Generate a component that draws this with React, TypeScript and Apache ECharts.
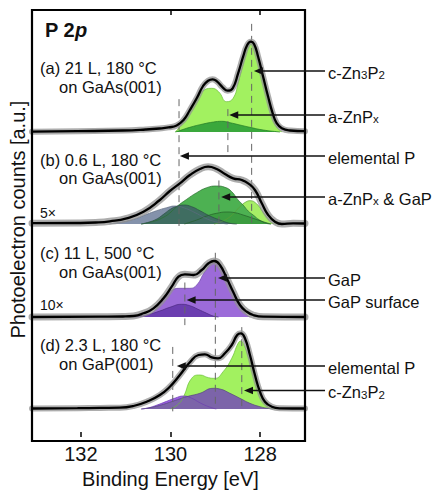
import React, { useEffect, useRef } from 'react';
import * as echarts from 'echarts';

type Pt = [number, number];

// ---------- DATA (binding energy [eV], intensity above panel baseline [a.u.]) ----------
// Panel (a) 21 L, 180 °C on GaAs(001)
const envA: Pt[] = [[133, 0.3], [132, 0.8], [131, 1.5], [130.5, 2.5], [130.2, 3.5], [130.0, 4.6], [129.82, 6.5], [129.67, 12], [129.53, 22], [129.38, 33.7], [129.24, 46], [129.13, 51.3], [129.03, 52.7], [128.93, 50.3], [128.81, 44.7], [128.7, 41.3], [128.59, 43.7], [128.47, 58.7], [128.36, 75.3], [128.27, 87], [128.19, 90.3], [128.12, 88], [128.03, 75.3], [127.92, 55.3], [127.81, 35.3], [127.71, 18.7], [127.62, 8.7], [127.51, 3.7], [127.33, 1.5], [127.0, 0.8]];
const cZn3P2A: Pt[] = [[129.85, 0], [129.78, 3.7], [129.64, 12], [129.49, 23.7], [129.35, 34], [129.27, 40.3], [129.05, 43.7], [128.9, 40.3], [128.72, 30.3], [128.58, 33.7], [128.47, 48.7], [128.36, 68.7], [128.25, 85.3], [128.19, 88.3], [128.11, 83.7], [128.0, 65.3], [127.89, 45.3], [127.78, 25.3], [127.69, 12], [127.6, 3.7], [127.5, 0]];
const aZnPxA: Pt[] = [[129.85, 0], [129.78, 1], [129.53, 4.7], [129.24, 8], [129.01, 10], [128.83, 10.7], [128.65, 9.3], [128.43, 7], [128.21, 4.7], [127.92, 2], [127.62, 0.3], [127.55, 0]];

// Panel (b) 0.6 L, 180 °C on GaAs(001), 5x
const envB: Pt[] = [[133, 0.8], [132, 1], [131.6, 1.5], [131.29, 2.7], [130.92, 5.7], [130.55, 12.3], [130.19, 24], [129.97, 33], [129.75, 40.7], [129.53, 49], [129.31, 55], [129.13, 57.3], [128.94, 55], [128.76, 50], [128.58, 45.7], [128.39, 44], [128.25, 40.7], [128.1, 34], [127.95, 20.7], [127.81, 9], [127.66, 2.3], [127.51, 0], [127.26, 0.7], [127.0, 0.5]];
const otherB: Pt[] = [[131.3, 0], [131.14, 1.3], [130.92, 3], [130.7, 5.7], [130.48, 9.7], [130.26, 13.3], [130.04, 16.3], [129.86, 18], [129.65, 16], [129.4, 11], [129.15, 5], [128.9, 1.5], [128.7, 0]];
const elemPB: Pt[] = [[130.6, 0], [130.3, 4], [130.1, 10], [129.95, 15], [129.82, 17.5], [129.67, 19], [129.49, 17.3], [129.31, 13.3], [129.09, 8], [128.87, 4], [128.65, 0.7], [128.5, 0]];
const aZnPxGaPB: Pt[] = [[130.6, 0], [130.3, 3], [130.1, 7], [129.97, 11], [129.82, 17.3], [129.6, 24.7], [129.38, 31.3], [129.16, 36.3], [128.94, 38], [128.76, 36.7], [128.61, 32.3], [128.47, 24], [128.36, 19], [128.25, 13], [128.14, 9], [128.0, 4], [127.85, 0.7], [127.75, 0]];
const lowerGreenB: Pt[] = [[129.65, 0], [129.38, 4], [129.16, 8], [128.94, 10.7], [128.72, 12], [128.54, 11.3], [128.36, 9], [128.14, 5.7], [127.92, 2.3], [127.75, 0]];
const cZn3P2B: Pt[] = [[129.0, 0], [128.8, 3], [128.6, 9], [128.5, 14], [128.39, 19], [128.3, 22], [128.21, 23.3], [128.06, 20], [127.92, 11.7], [127.77, 3.3], [127.7, 0.7], [127.62, 0]];

// Panel (c) 11 L, 500 °C on GaAs(001), 10x
const envC: Pt[] = [[133, 0], [131.5, 0.3], [131, 0.5], [130.77, 1], [130.55, 3.7], [130.33, 8.7], [130.11, 18.7], [129.93, 30.3], [129.78, 40.3], [129.64, 42.7], [129.45, 42], [129.27, 47], [129.12, 53.7], [129.0, 56], [128.87, 52], [128.72, 38.7], [128.58, 25.3], [128.43, 12], [128.28, 5.3], [128.14, 2], [127.92, 0.3], [127, 0]];
const gapC: Pt[] = [[130.75, 0], [130.63, 0.3], [130.41, 2.7], [130.26, 8.7], [130.11, 17], [129.97, 25.3], [129.75, 28.7], [129.53, 28.7], [129.38, 32], [129.2, 45.3], [129.02, 53.7], [128.83, 48.7], [128.69, 35.3], [128.54, 22], [128.39, 8.7], [128.28, 2], [128.2, 0]];
const gapSurfC: Pt[] = [[130.75, 0], [130.63, 1], [130.41, 3], [130.19, 6], [129.97, 9.7], [129.71, 12.7], [129.53, 11.3], [129.35, 7.7], [129.16, 3.7], [129.02, 1], [128.9, 0]];

// Panel (d) 2.3 L, 180 °C on GaP(001)
const envD: Pt[] = [[133, 0.5], [132, 0.8], [131.5, 1.1], [131.07, 1.3], [130.77, 3], [130.48, 7.3], [130.19, 14], [129.97, 22.3], [129.75, 34], [129.53, 46.7], [129.34, 54], [129.2, 54.7], [129.05, 51.7], [128.91, 50.7], [128.76, 55.7], [128.61, 64], [128.49, 74], [128.41, 75.7], [128.32, 70.7], [128.21, 54], [128.1, 34], [127.99, 17.3], [127.88, 7.3], [127.73, 2.3], [127.55, 0.7], [127, 0.5]];
const cZn3P2D: Pt[] = [[129.95, 0], [129.78, 5], [129.67, 12.3], [129.49, 30.7], [129.31, 34], [129.12, 31.3], [128.98, 30.7], [128.8, 37.3], [128.61, 50.7], [128.47, 65.7], [128.41, 68], [128.34, 64], [128.21, 47.3], [128.1, 30.7], [127.99, 15.7], [127.88, 5.7], [127.75, 0.7], [127.65, 0]];
const elemPD: Pt[] = [[130.6, 0], [130.45, 1], [130.25, 4], [130.04, 7.7], [129.85, 11], [129.67, 13], [129.5, 11], [129.3, 6], [129.1, 2], [128.95, 0]];
const gapD: Pt[] = [[130.6, 0], [130.45, 1], [130.2, 3.5], [129.89, 8], [129.6, 12.3], [129.31, 15.7], [129.02, 20.7], [128.87, 20], [128.65, 15.7], [128.43, 10.7], [128.21, 5.7], [127.99, 2.3], [127.8, 0.5], [127.7, 0]];

// Axis
const X_MIN = 127;
const X_MAX = 133;
const X_TICKS = [128, 130, 132];
const X_TICKS_TOP = [128, 130];

// Peak reference (dashed) lines: binding energies
const peakBE = [128.19, 129.81, 128.72, 128.92, 129.68, 129.0, 129.95, 128.41];

// Annotations: label and arrow tip binding energy
const annotLabels = ['{t|c-Zn}{s|3}{t|P}{s|2}', '{t|a-ZnP}{s|x}', '{t|elemental P}', '{t|a-ZnP}{s|x}{t| & GaP}', '{t|GaP}', '{t|GaP surface}', '{t|elemental P}', '{t|c-Zn}{s|3}{t|P}{s|2}'];
const annotTipBE = [128.14, 128.69, 129.79, 128.87, 128.94, 129.64, 129.86, 128.36];

const panelLine1 = ['(a) 21 L, 180 °C', '(b) 0.6 L, 180 °C', '(c) 11 L, 500 °C', '(d) 2.3 L, 180 °C'];
const panelLine2 = ['on GaAs(001)', 'on GaAs(001)', 'on GaAs(001)', 'on GaP(001)'];
const panelScale = ['', '5×', '10×', ''];

// ---------- LAYOUT ----------
const FONT = "'Liberation Sans', Arial, Helvetica, sans-serif";
const FR_L = 32, FR_R = 305, FR_T = 10, FR_B = 441;
const W = 434, H = 494;
const SMOOTH = 0.5;
const panels = [
  { top: 10, height: 140, base: 132 },
  { top: 150, height: 90, base: 224 },
  { top: 240, height: 90, base: 317 },
  { top: 330, height: 111, base: 409 },
];
const dashY: [number, number][] = [[24, 228], [100, 228], [110, 155], [182, 228], [285, 328], [255, 412], [350, 415], [330, 412]];
const annotY = [71, 115, 156, 197, 278, 300, 366, 390.5];
const line1Y = [68, 160, 253, 345];
const line2Y = [87, 178, 272, 364];
const scaleY = [0, 213, 305, 0];

export default function App() {
  const ref = useRef<HTMLDivElement>(null);
  useEffect(() => {
    document.body.style.margin = '0';
    const chart = echarts.init(ref.current!, null, { renderer: 'svg' });

    const grids: any[] = [{ left: FR_L, right: W - FR_R, top: FR_T, bottom: H - FR_B }];
    const xAxes: any[] = [
      {
        gridIndex: 0, type: 'value', min: X_MIN, max: X_MAX, inverse: true, position: 'bottom',
        axisLine: { show: false }, splitLine: { show: false },
        axisTick: { show: true, inside: true, length: 5, customValues: X_TICKS, lineStyle: { color: '#000', width: 1.5 } },
        axisLabel: { show: true, customValues: X_TICKS, margin: 7, fontSize: 20, color: '#111', fontFamily: FONT },
        name: 'Binding Energy [eV]', nameLocation: 'middle', nameGap: 27,
        nameTextStyle: { fontSize: 20, color: '#111', fontFamily: FONT },
      },
      {
        gridIndex: 0, type: 'value', min: X_MIN, max: X_MAX, inverse: true, position: 'top',
        axisLine: { show: false }, splitLine: { show: false }, axisLabel: { show: false },
        axisTick: { show: true, inside: true, length: 5, customValues: X_TICKS_TOP, lineStyle: { color: '#000', width: 1.5 } },
      },
    ];
    const yAxes: any[] = [
      {
        gridIndex: 0, type: 'value', min: 0, max: FR_B - FR_T,
        axisLine: { show: false }, splitLine: { show: false }, axisLabel: { show: false },
        axisTick: { show: false },
        name: 'Photoelectron counts [a.u.]', nameLocation: 'middle', nameGap: 8,
        nameTextStyle: { fontSize: 20, color: '#111', fontFamily: FONT, padding: [0, 0, 0, 8] },
      },
    ];
    panels.forEach((p, i) => {
      grids.push({ left: FR_L, right: W - FR_R, top: p.top, height: p.height });
      xAxes.push({ gridIndex: i + 1, type: 'value', min: X_MIN, max: X_MAX, inverse: true, show: false });
      const max = p.base - p.top;
      yAxes.push({ gridIndex: i + 1, type: 'value', min: max - p.height, max, show: false });
    });

    const area = (pi: number, data: Pt[], color: string, edge: string) => ({
      type: 'line', xAxisIndex: pi + 2, yAxisIndex: pi + 1, data, smooth: SMOOTH,
      symbol: 'none', clip: false, z: 2, silent: true,
      lineStyle: { width: 0.7, color: edge }, areaStyle: { color, opacity: 1 },
    });
    const env = (pi: number, data: Pt[], bandW: number) => [
      {
        type: 'line', xAxisIndex: pi + 2, yAxisIndex: pi + 1, data, smooth: SMOOTH,
        symbol: 'none', clip: false, z: 4, silent: true, lineStyle: { width: bandW, color: 'rgba(145,145,145,0.75)', cap: 'round', join: 'round' },
      },
      {
        type: 'line', xAxisIndex: pi + 2, yAxisIndex: pi + 1, data, smooth: SMOOTH,
        symbol: 'none', clip: false, z: 5, silent: true, lineStyle: { width: 2.3, color: '#000' },
      },
    ];

    const series: any[] = [
      area(0, cZn3P2A, '#a2f160', '#6cbf3a'),
      area(0, aZnPxA, '#3aa83c', '#237a25'),
      ...env(0, envA, 6),

      area(1, cZn3P2B, '#a6ee66', '#5c9e35'),
      area(1, aZnPxGaPB, '#4db152', '#2b6e30'),
      area(1, lowerGreenB, '#3c9c40', '#245f28'),
      area(1, otherB, '#8492ab', '#5d6a80'),
      area(1, elemPB, '#3f6d61', '#2d4d45'),
      ...env(1, envB, 7),

      area(2, gapC, '#9c6bd9', '#6d45a8'),
      area(2, gapSurfC, '#6b3eb0', '#4b2a80'),
      ...env(2, envC, 7),

      area(3, cZn3P2D, '#a2f160', '#6cbf3a'),
      area(3, elemPD, '#9b5fe2', '#6b3eb0'),
      area(3, gapD, '#7c64a9', '#564480'),
      ...env(3, envD, 6),
    ];

    peakBE.forEach((be, i) => {
      series.push({
        type: 'line', xAxisIndex: 0, yAxisIndex: 0, symbol: 'none', silent: true, z: 3, clip: false,
        data: [[be, FR_B - dashY[i][0]], [be, FR_B - dashY[i][1]]],
        lineStyle: { color: '#666', width: 1, type: [7, 5] },
      });
    });

    chart.setOption({
      animation: false,
      grid: grids,
      xAxis: xAxes,
      yAxis: yAxes,
      series,
    });

    const g: any[] = [];
    g.push({
      type: 'rect', z: 100, silent: true,
      shape: { x: FR_L, y: FR_T, width: FR_R - FR_L, height: FR_B - FR_T },
      style: { fill: 'none', stroke: '#000', lineWidth: 2.2 },
    });
    g.push({
      type: 'text', z: 100, x: 45, y: 30, silent: true,
      style: {
        text: '{b|P 2}{i|p}', verticalAlign: 'middle', align: 'left',
        rich: {
          b: { fontSize: 20, fontWeight: 'bold', fontFamily: FONT, fill: '#111' },
          i: { fontSize: 20, fontWeight: 'bold', fontStyle: 'italic', fontFamily: FONT, fill: '#111' },
        },
      },
    });
    panelLine1.forEach((t, i) => {
      g.push({ type: 'text', z: 100, x: 40, y: line1Y[i], silent: true, style: { text: t, fontSize: 16.5, fontFamily: FONT, fill: '#111', verticalAlign: 'middle' } });
      g.push({ type: 'text', z: 100, x: 59, y: line2Y[i], silent: true, style: { text: panelLine2[i], fontSize: 16.5, fontFamily: FONT, fill: '#111', verticalAlign: 'middle' } });
      if (panelScale[i]) {
        g.push({ type: 'text', z: 100, x: 40, y: scaleY[i], silent: true, style: { text: panelScale[i], fontSize: 14, fontFamily: FONT, fill: '#111', verticalAlign: 'middle' } });
      }
    });
    const rich = {
      t: { fontSize: 16.5, fontFamily: FONT, fill: '#111', verticalAlign: 'bottom', lineHeight: 20 },
      s: { fontSize: 11.5, fontFamily: FONT, fill: '#111', verticalAlign: 'bottom', lineHeight: 20 },
    };
    annotLabels.forEach((lab, i) => {
      const tipX = chart.convertToPixel({ xAxisIndex: 0 } as any, annotTipBE[i]) as unknown as number;
      const y = annotY[i];
      g.push({ type: 'line', z: 100, silent: true, shape: { x1: tipX + 6, y1: y, x2: 325, y2: y }, style: { stroke: '#111', lineWidth: 1.3 } });
      g.push({ type: 'polygon', z: 100, silent: true, shape: { points: [[tipX, y], [tipX + 9, y - 3.8], [tipX + 9, y + 3.8]] }, style: { fill: '#111' } });
      g.push({ type: 'text', z: 100, x: 328, y, silent: true, style: { text: lab, rich, verticalAlign: 'middle', align: 'left' } });
    });
    chart.setOption({ graphic: g });

    return () => chart.dispose();
  }, []);
  return <div ref={ref} style={{ width: W, height: H }} />;
}
